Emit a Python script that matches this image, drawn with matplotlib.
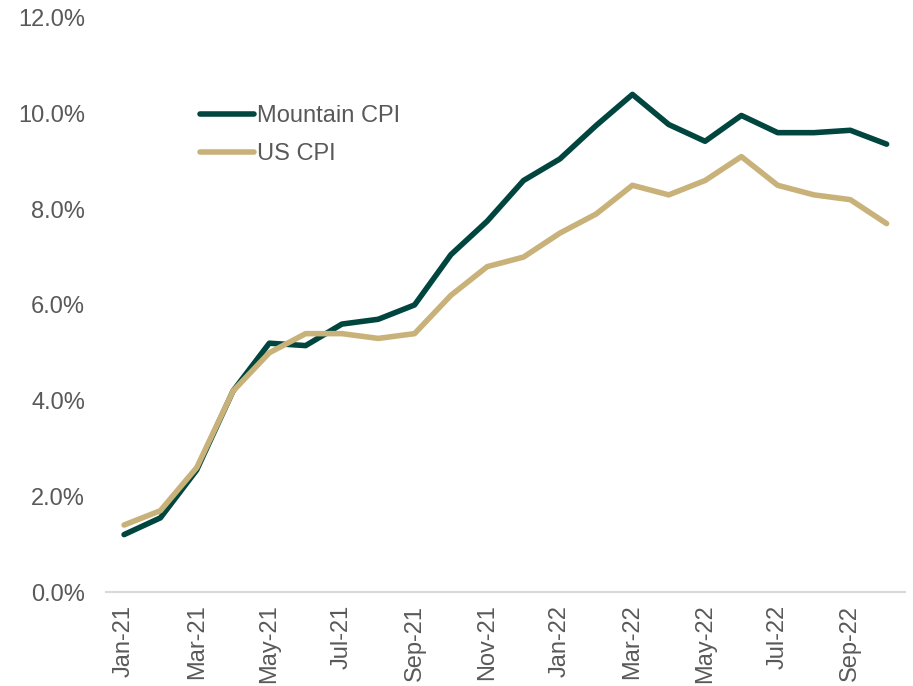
import matplotlib
matplotlib.use("Agg")
import matplotlib.pyplot as plt
from matplotlib.ticker import FuncFormatter

plt.rcParams['font.family'] = ['Liberation Sans', 'DejaVu Sans']

months = ["Jan-21", "Feb-21", "Mar-21", "Apr-21", "May-21", "Jun-21", "Jul-21", "Aug-21",
          "Sep-21", "Oct-21", "Nov-21", "Dec-21", "Jan-22", "Feb-22", "Mar-22", "Apr-22",
          "May-22", "Jun-22", "Jul-22", "Aug-22", "Sep-22", "Oct-22"]
mountain_cpi = [1.2, 1.55, 2.55, 4.2, 5.2, 5.15, 5.6, 5.7, 6.0, 7.05, 7.75, 8.6,
                9.05, 9.75, 10.4, 9.77, 9.42, 9.96, 9.6, 9.6, 9.65, 9.36]
us_cpi = [1.4, 1.7, 2.6, 4.2, 5.0, 5.4, 5.4, 5.3, 5.4, 6.2, 6.8, 7.0,
          7.5, 7.9, 8.5, 8.3, 8.6, 9.1, 8.5, 8.3, 8.2, 7.7]

green = "#00463F"
tan = "#C8B27A"
grey = "#595959"

fig = plt.figure(figsize=(9.13, 6.86), dpi=100)
ax = fig.add_axes([0.116, 0.137, 0.875, 0.837])

x = list(range(len(months)))
ax.plot(x, mountain_cpi, color=green, lw=4, solid_capstyle='round', solid_joinstyle='round', label="Mountain CPI")
ax.plot(x, us_cpi, color=tan, lw=4, solid_capstyle='round', solid_joinstyle='round', label="US CPI")

ax.set_xlim(-0.5, len(months) - 0.5)
ax.set_ylim(0, 12)
ax.set_yticks([0, 2, 4, 6, 8, 10, 12])
ax.yaxis.set_major_formatter(FuncFormatter(lambda v, p: f"{v:.1f}%"))
ax.set_xticks(x[::2])
ax.set_xticklabels(months[::2], rotation=90)

for s in ['top', 'right', 'left']:
    ax.spines[s].set_visible(False)
ax.spines['bottom'].set_color("#D9D9D9")
ax.spines['bottom'].set_linewidth(1.5)
ax.tick_params(axis='both', length=0, labelsize=17, labelcolor=grey)
ax.tick_params(axis='y', pad=15)
ax.tick_params(axis='x', pad=9)

leg = ax.legend(loc='upper left', bbox_to_anchor=(0.1176, 0.848), frameon=False, fontsize=17,
                borderpad=0, borderaxespad=0, handlelength=2.3, handletextpad=0.1,
                labelspacing=0.67, labelcolor=grey)

fig.savefig("out.png", dpi=100)
